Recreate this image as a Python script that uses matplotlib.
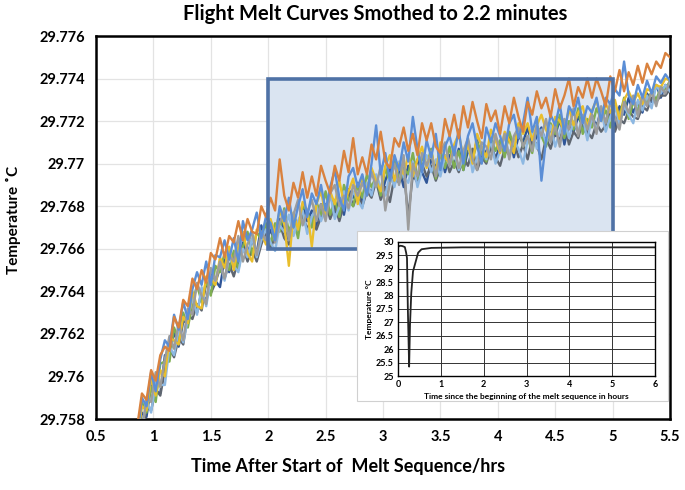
import matplotlib.pyplot as plt
import matplotlib.patches as patches
import numpy as np

plt.rcParams['font.family'] = ['Lato', 'DejaVu Sans']
plt.rcParams['font.weight'] = 'bold'

# smoothed melt curves, one point every 0.04 h starting at 0.82 h
t_start, t_step = 0.82, 0.04

# temperatures, in units of 0.1 mK above 29.75 C
T_BASE = 29.75
T_UNIT = 1e-4

orange = [79, 77, 92, 89, 103, 98, 110, 114, 112, 128,
          123, 136, 133, 146, 141, 150, 144, 158, 155, 165,
          156, 166, 163, 173, 164, 174, 168, 167, 180, 175,
          184, 178, 202, 185, 178, 191, 184, 196, 184, 194,
          185, 199, 192, 186, 199, 192, 206, 196, 212, 195,
          203, 195, 209, 202, 215, 201, 198, 212, 208, 217,
          206, 214, 204, 219, 211, 219, 208, 205, 221, 213,
          223, 212, 227, 217, 229, 220, 212, 228, 220, 225,
          214, 227, 219, 231, 222, 215, 229, 223, 234, 226,
          231, 222, 235, 226, 232, 240, 227, 236, 231, 240,
          231, 240, 234, 227, 241, 234, 244, 234, 243, 237,
          246, 238, 247, 242, 248, 245, 252, 250]
blue = [76, 72, 90, 86, 102, 93, 108, 117, 114, 129,
        122, 135, 127, 141, 149, 143, 154, 143, 157, 156,
        164, 155, 165, 154, 173, 164, 169, 177, 165, 175,
        172, 164, 180, 173, 184, 170, 180, 188, 175, 186,
        181, 190, 178, 189, 197, 184, 178, 194, 198, 189,
        195, 185, 200, 218, 195, 205, 192, 204, 197, 210,
        201, 222, 207, 196, 211, 203, 214, 197, 208, 213,
        204, 216, 200, 213, 219, 208, 200, 217, 210, 219,
        213, 206, 219, 223, 212, 219, 231, 215, 222, 192,
        211, 223, 218, 228, 214, 227, 223, 231, 219, 227,
        224, 231, 220, 231, 228, 235, 232, 248, 232, 228,
        237, 231, 239, 233, 241, 238, 242, 239]
gray = [66, 78, 74, 90, 88, 102, 95, 108, 119, 113,
        125, 117, 132, 129, 144, 138, 134, 151, 145, 154,
        146, 157, 154, 166, 154, 162, 168, 157, 168, 164,
        172, 163, 172, 178, 164, 176, 183, 171, 177, 183,
        173, 181, 173, 186, 190, 180, 185, 179, 190, 185,
        191, 185, 196, 189, 199, 178, 191, 200, 190, 204,
        169, 200, 194, 205, 199, 205, 194, 205, 210, 199,
        208, 198, 206, 212, 202, 197, 210, 208, 202, 214,
        206, 214, 202, 213, 217, 208, 213, 206, 218, 213,
        221, 210, 218, 208, 221, 216, 226, 213, 223, 216,
        223, 214, 227, 219, 229, 222, 216, 229, 224, 232,
        222, 232, 227, 234, 227, 236, 233, 239]
yellow = [72, 70, 86, 84, 99, 91, 103, 100, 118, 117,
          115, 128, 125, 140, 133, 132, 147, 146, 143, 156,
          151, 161, 150, 161, 168, 158, 154, 169, 168, 162,
          174, 167, 178, 172, 152, 177, 169, 182, 178, 161,
          181, 187, 176, 187, 181, 192, 181, 187, 193, 181,
          193, 187, 198, 192, 187, 199, 204, 192, 200, 195,
          204, 194, 202, 208, 198, 206, 195, 210, 203, 200,
          209, 214, 203, 209, 200, 214, 208, 203, 216, 211,
          205, 215, 211, 205, 219, 214, 219, 211, 218, 223,
          216, 211, 222, 220, 215, 226, 218, 224, 227, 217,
          225, 230, 220, 228, 224, 230, 221, 230, 234, 229,
          233, 228, 235, 234, 237, 236, 240, 239]
light_blue = [61, 76, 75, 89, 83, 97, 96, 96, 114, 110,
              122, 116, 127, 137, 129, 142, 133, 146, 144, 154,
              145, 156, 152, 149, 160, 156, 165, 156, 164, 169,
              163, 159, 171, 168, 176, 166, 173, 178, 167, 175,
              180, 173, 179, 186, 174, 180, 187, 178, 187, 183,
              179, 191, 185, 195, 189, 185, 195, 189, 201, 194,
              191, 201, 189, 197, 204, 196, 202, 194, 204, 199,
              206, 197, 203, 210, 196, 203, 208, 202, 211, 200,
              206, 213, 204, 211, 207, 200, 211, 216, 207, 216,
              210, 218, 208, 215, 221, 212, 220, 215, 222, 211,
              222, 216, 225, 215, 222, 227, 218, 227, 223, 219,
              230, 225, 232, 226, 237, 233, 237, 234]
green = [74, 69, 88, 83, 95, 88, 106, 107, 107, 123,
         117, 130, 123, 134, 143, 135, 145, 138, 152, 149,
         158, 150, 159, 150, 161, 168, 157, 168, 164, 172,
         162, 172, 168, 179, 168, 174, 165, 180, 178, 170,
         182, 176, 187, 176, 183, 175, 190, 183, 180, 190,
         184, 195, 189, 194, 185, 198, 191, 203, 191, 198,
         195, 205, 193, 203, 199, 207, 193, 205, 198, 208,
         198, 206, 197, 211, 202, 210, 205, 201, 212, 206,
         211, 203, 215, 208, 218, 208, 213, 205, 218, 213,
         208, 219, 214, 223, 212, 220, 216, 226, 214, 221,
         217, 226, 221, 225, 217, 227, 222, 231, 221, 229,
         225, 232, 229, 234, 230, 236, 235, 239]
dark_gray = [62, 73, 70, 86, 84, 94, 91, 103, 113, 109,
             118, 115, 129, 127, 134, 131, 144, 139, 144, 151,
             146, 153, 147, 155, 161, 154, 160, 154, 162, 168,
             160, 166, 172, 165, 162, 172, 169, 176, 169, 175,
             169, 175, 181, 174, 180, 173, 181, 187, 180, 186,
             180, 187, 184, 192, 183, 189, 182, 194, 191, 197,
             175, 195, 191, 200, 194, 199, 192, 198, 204, 196,
             201, 196, 203, 199, 207, 197, 203, 200, 208, 203,
             199, 207, 204, 211, 203, 209, 202, 212, 209, 202,
             212, 207, 215, 211, 219, 209, 215, 212, 220, 215,
             212, 219, 215, 218, 224, 215, 221, 219, 225, 222,
             221, 227, 225, 231, 229, 232, 232, 235]
dark_blue = [71, 68, 83, 81, 96, 93, 92, 110, 110, 121,
             114, 126, 125, 139, 130, 140, 135, 148, 145, 142,
             155, 149, 157, 151, 163, 158, 164, 158, 171, 163,
             169, 163, 174, 169, 164, 176, 170, 181, 173, 178,
             171, 181, 177, 186, 177, 184, 176, 188, 184, 191,
             182, 190, 186, 194, 184, 192, 198, 190, 198, 189,
             199, 193, 202, 196, 191, 202, 199, 206, 196, 204,
             199, 207, 197, 206, 203, 211, 201, 206, 210, 202,
             209, 205, 214, 203, 213, 210, 217, 208, 213, 217,
             209, 217, 213, 221, 209, 219, 215, 222, 218, 213,
             223, 217, 226, 219, 224, 217, 227, 223, 231, 224,
             229, 224, 233, 229, 237, 231, 237, 235]

# draw order: first is at the bottom
flights = [dark_blue, dark_gray, green, light_blue, yellow, gray, blue, orange]
colors = ['#2F5597', '#5F6670', '#7FAE52', '#8DB8E2', '#E9BE2C', '#9C9C9C', '#5B8ED6', '#D9823F']

x_ticks = [0.5, 1, 1.5, 2, 2.5, 3, 3.5, 4, 4.5, 5, 5.5]
y_ticks = [29.758, 29.76, 29.762, 29.764, 29.766, 29.768, 29.77, 29.772, 29.774, 29.776]
y_labels = ['29.758', '29.76', '29.762', '29.764', '29.766', '29.768', '29.77', '29.772', '29.774', '29.776']

# inset: full melt sequence
inset_t = [0, 0.05, 0.1, 0.16, 0.19, 0.21, 0.23, 0.26, 0.28, 0.31, 0.35, 0.41, 0.47, 0.55, 0.78, 1.5, 3, 4.5, 6]
inset_T = [29.82, 29.86, 29.85, 29.81, 29.6, 29.4, 27.5, 25.35, 26.9, 28.1, 28.9, 29.25, 29.6, 29.73, 29.78, 29.8, 29.8, 29.8, 29.8]

fig = plt.figure(figsize=(6.85, 4.9), dpi=100)
ax = fig.add_axes([96 / 685, 71 / 490, 574 / 685, 383 / 490])

for vals, c in zip(flights, colors):
    t = t_start + t_step * np.arange(len(vals))
    ax.plot(t, T_BASE + T_UNIT * np.array(vals), color=c, lw=1.7, zorder=3)

# highlighted zoom box
ax.add_patch(patches.Rectangle((2, 29.766), 3, 0.008, facecolor='#DAE4F1', edgecolor='none', zorder=1))
ax.add_patch(patches.Rectangle((2, 29.766), 3, 0.008, facecolor='none', edgecolor='#4F72A6', lw=2.6, zorder=4))

ax.set_xlim(0.5, 5.5)
ax.set_ylim(29.758, 29.776)
ax.set_xticks(x_ticks)
ax.set_xticklabels([f'{v:g}' for v in x_ticks])
ax.set_yticks(y_ticks)
ax.set_yticklabels(y_labels)
ax.tick_params(length=0, labelsize=10.5, pad=8)
ax.grid(True, color='#E3E3E3', lw=0.9, zorder=0)
ax.set_axisbelow(True)
for s in ax.spines.values():
    s.set_linewidth(1.8)
    s.set_color('black')

fig.text(375 / 685, 1 - 14 / 490, 'Flight Melt Curves Smothed to 2.2 minutes', ha='center', va='center',
         fontsize=14.5, fontweight='bold')
fig.text(348 / 685, 1 - 466 / 490, 'Time After Start of  Melt Sequence/hrs', ha='center', va='center',
         fontsize=13, fontweight='bold')
fig.text(13 / 685, 1 - 220 / 490, 'Temperature ˚C', ha='center', va='center', rotation=90,
         fontsize=11, fontweight='bold')

# inset panel background
fig.patches.append(patches.Rectangle((357 / 685, 1 - 401 / 490), 311 / 685, 170 / 490,
                                     transform=fig.transFigure, facecolor='white', edgecolor='#D0D0D0',
                                     lw=0.8, zorder=5))
ins = fig.add_axes([398 / 685, 1 - 376 / 490, 257 / 685, 134 / 490], zorder=6)
ins.plot(inset_t, inset_T, color='#222222', lw=1.3)
ins.set_xlim(0, 6)
ins.set_ylim(25, 30)
ins.set_xticks(range(7))
ins.set_yticks(np.arange(25, 30.01, 0.5))
ins.set_yticklabels(['25', '25.5', '26', '26.5', '27', '27.5', '28', '28.5', '29', '29.5', '30'])
ins.tick_params(length=0, labelsize=6.5, pad=3)
ins.grid(True, color='#333333', lw=0.7)
for s in ins.spines.values():
    s.set_linewidth(1.0)
ins.set_xlabel('Time since the beginning of the melt sequence in hours', fontsize=6, fontweight='bold', labelpad=3)
ins.set_ylabel('Temperature °C', fontsize=6, fontweight='bold', labelpad=2)

fig.savefig('out.png', dpi=100)
